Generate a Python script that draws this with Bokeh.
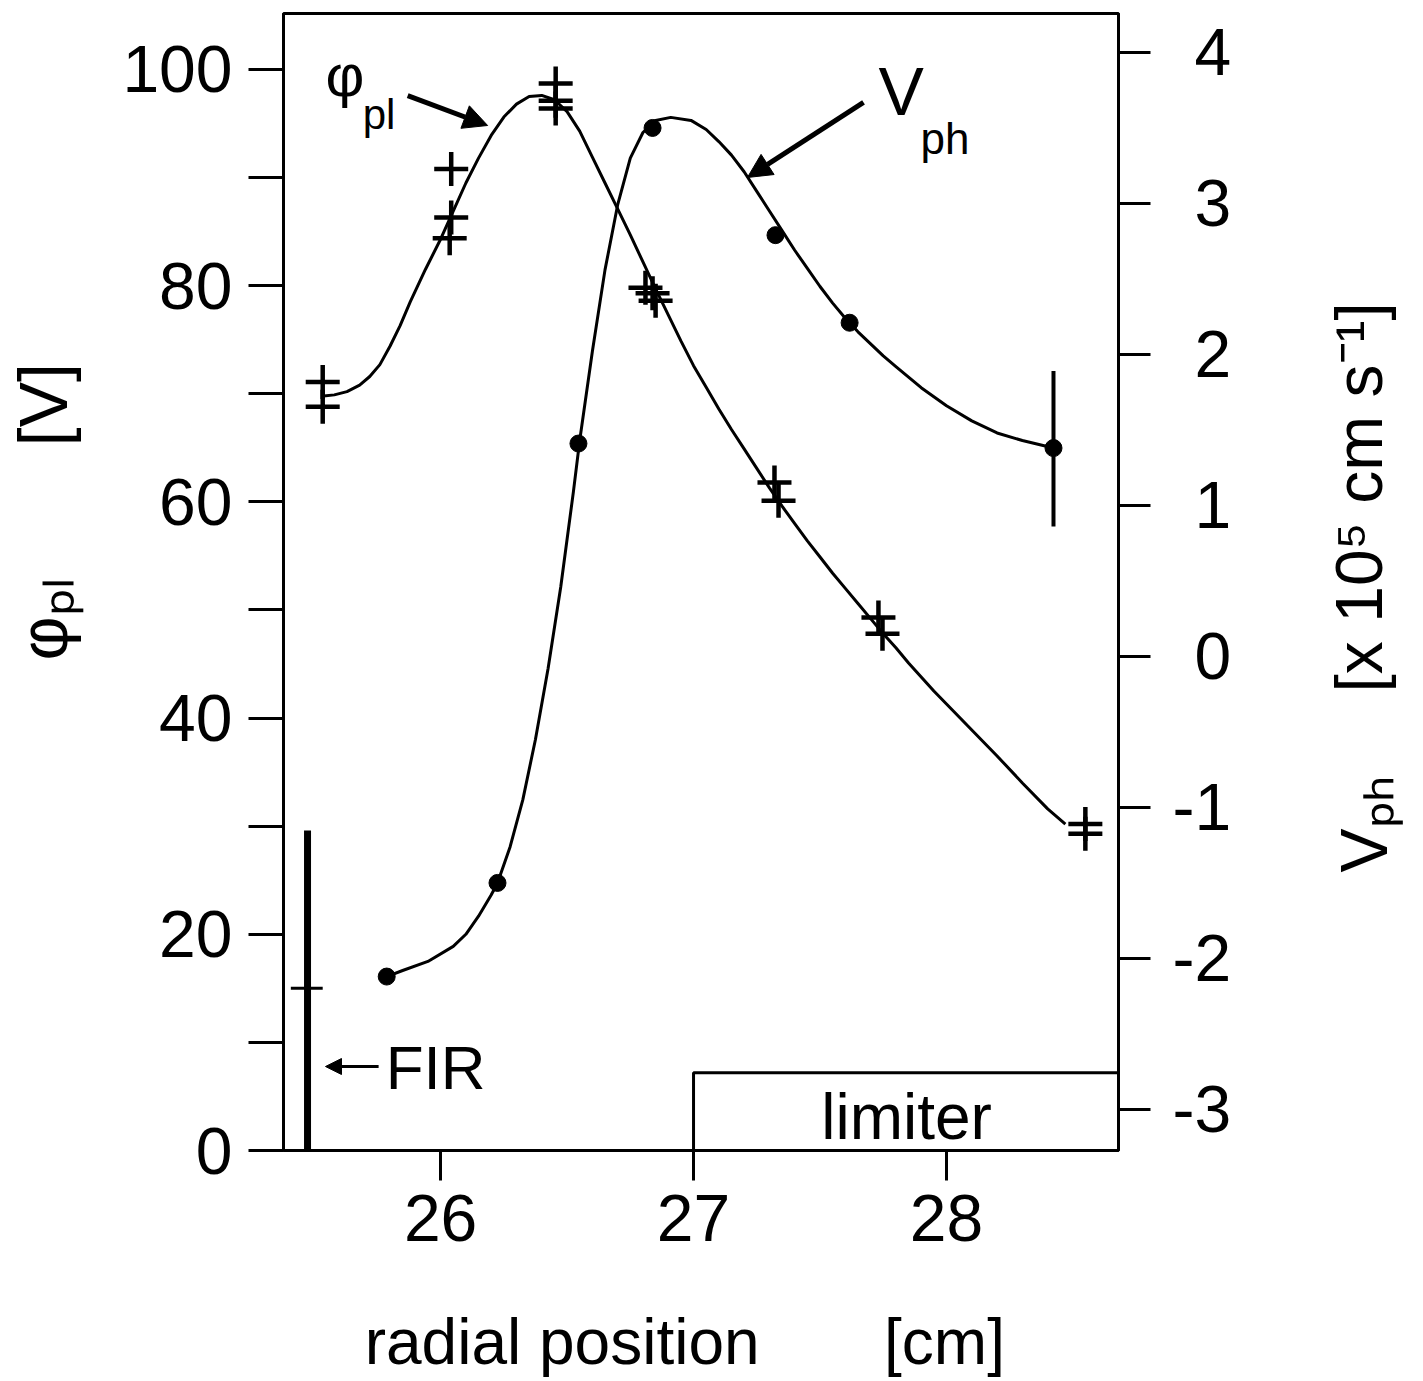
import math
from bokeh.plotting import figure
from bokeh.models import Range1d, LinearAxis, FixedTicker, Label, Arrow, NormalHead
from bokeh.embed import file_html
from bokeh.resources import INLINE

# ---------------- data ----------------
# plasma potential phi_pl [V] : measured points (crosses)
phi_pts_x = [25.534, 25.534, 26.042, 26.042, 26.036, 26.455, 26.455, 26.455,
             26.810, 26.838, 26.850, 27.320, 27.336, 27.731, 27.747, 28.549, 28.549]
phi_pts_y = [71.1, 68.8, 90.8, 86.3, 84.4, 98.7, 97.1, 96.4,
             79.8, 79.3, 78.6, 61.8, 60.1, 49.3, 47.8, 30.2, 29.3]

# plasma potential: smooth fitted curve
phi_fit_x = [25.538, 25.58, 25.63, 25.68, 25.72, 25.76, 25.80, 25.84, 25.88, 25.94,
             26.00, 26.05, 26.10, 26.15, 26.20, 26.25, 26.30, 26.35, 26.40, 26.45,
             26.50, 26.55, 26.60, 26.65, 26.70, 26.75, 26.80, 26.85, 26.90, 26.95,
             27.00, 27.05, 27.10, 27.15, 27.20, 27.25, 27.30, 27.35, 27.40, 27.45,
             27.50, 27.55, 27.60, 27.65, 27.70, 27.75, 27.80, 27.85, 27.90, 27.95,
             28.00, 28.10, 28.20, 28.30, 28.40, 28.47]
phi_fit_y = [69.8, 69.9, 70.2, 70.8, 71.6, 72.7, 74.4, 76.3, 78.5, 81.5,
             84.3, 86.9, 89.5, 91.8, 93.9, 95.6, 96.8, 97.5, 97.6, 97.2,
             96.1, 94.3, 91.9, 89.5, 87.1, 84.7, 82.2, 79.7, 77.3, 74.9,
             72.6, 70.6, 68.6, 66.7, 64.9, 63.1, 61.3, 59.6, 58.0, 56.4,
             54.9, 53.4, 52.0, 50.6, 49.2, 47.8, 46.5, 45.1, 43.8, 42.5,
             41.3, 38.9, 36.5, 34.0, 31.6, 30.2]

# phase velocity V_ph [x 10^5 cm/s] : measured points (dots)
vph_pts_x = [25.787, 26.225, 26.545, 26.838, 27.324, 27.617, 28.423]
vph_pts_y = [-2.12, -1.50, 1.41, 3.50, 2.79, 2.21, 1.38]

# error bar on the last V_ph point
vph_err_x = [28.423]
vph_err_lo = [0.86]
vph_err_hi = [1.89]

# phase velocity: smooth fitted curve
vph_fit_x = [25.787, 25.85, 25.95, 26.05, 26.10, 26.15, 26.20, 26.225, 26.275, 26.325,
             26.375, 26.425, 26.475, 26.525, 26.55, 26.60, 26.65, 26.70, 26.75, 26.80,
             26.85, 26.91, 26.99, 27.05, 27.10, 27.15, 27.20, 27.25, 27.30, 27.35,
             27.40, 27.45, 27.50, 27.55, 27.60, 27.65, 27.70, 27.75, 27.80, 27.85,
             27.90, 27.95, 28.00, 28.10, 28.20, 28.30, 28.423]
vph_fit_y = [-2.12, -2.08, -2.02, -1.92, -1.84, -1.72, -1.58, -1.50, -1.26, -0.95,
             -0.55, -0.08, 0.46, 1.09, 1.43, 2.02, 2.56, 2.99, 3.30, 3.47,
             3.55, 3.57, 3.55, 3.49, 3.41, 3.32, 3.21, 3.08, 2.95, 2.82,
             2.69, 2.57, 2.45, 2.34, 2.24, 2.15, 2.07, 1.99, 1.92, 1.85,
             1.78, 1.72, 1.66, 1.56, 1.48, 1.43, 1.38]

# FIR position marker and limiter
fir_x = 25.474
fir_top = 29.6
fir_mark = 15.0
limiter_left = 27.0
limiter_top = 7.2

# ticks
x_ticks = [26, 27, 28]
phi_ticks = [0, 20, 40, 60, 80, 100]
phi_minor = [10, 30, 50, 70, 90]
vph_ticks = [-3, -2, -1, 0, 1, 2, 3, 4]

FONT = "Liberation Sans"
X0, X1 = 25.379, 28.680
Y0, Y1 = 0.0, 105.18
V0, V1 = -3.272, 4.258

W, H = 1420, 1381
p = figure(width=W, height=H,
           x_range=Range1d(X0, X1), y_range=Range1d(Y0, Y1),
           output_backend="svg", toolbar_location=None,
           min_border_left=283, min_border_right=W - 1118,
           min_border_top=13, min_border_bottom=H - 1150)
p.extra_y_ranges = {"v": Range1d(V0, V1)}
p.background_fill_color = "white"
p.border_fill_color = "white"
p.outline_line_color = "black"
p.outline_line_width = 3
p.grid.visible = False

def style_axis(ax, tick_out, standoff):
    ax.axis_line_color = "black"
    ax.axis_line_width = 3
    ax.major_tick_line_color = "black"
    ax.major_tick_line_width = 3
    ax.major_tick_in = 0
    ax.major_tick_out = tick_out
    ax.major_label_text_font = FONT
    ax.major_label_text_font_size = "66px"
    ax.major_label_text_color = "black"
    ax.major_label_standoff = standoff

xa = p.xaxis[0]
xa.ticker = FixedTicker(ticks=x_ticks)
style_axis(xa, 30, 14)
xa.minor_tick_line_color = None

ya = p.yaxis[0]
ya.ticker = FixedTicker(ticks=phi_ticks, minor_ticks=phi_minor)
style_axis(ya, 35, 16)
ya.minor_tick_line_color = "black"
ya.minor_tick_line_width = 3
ya.minor_tick_in = 0
ya.minor_tick_out = 35

ra = LinearAxis(y_range_name="v", ticker=FixedTicker(ticks=vph_ticks))
style_axis(ra, 32, 22)
ra.minor_tick_line_color = None
ra.major_label_overrides = {t: (str(t) if t < 0 else "\u2004" + str(t)) for t in vph_ticks}
p.add_layout(ra, "right")

# curves
p.line(phi_fit_x, phi_fit_y, line_color="black", line_width=3)
p.line(vph_fit_x, vph_fit_y, y_range_name="v", line_color="black", line_width=3)

# measured points
p.scatter(phi_pts_x, phi_pts_y, marker="cross", size=34, line_color="black", line_width=4.5)
p.segment(x0=vph_err_x, y0=vph_err_lo, x1=vph_err_x, y1=vph_err_hi,
          y_range_name="v", line_color="black", line_width=4)
p.scatter(vph_pts_x, vph_pts_y, y_range_name="v", marker="circle", size=17,
          fill_color="black", line_color="black")

# FIR marker
p.segment(x0=[fir_x], y0=[0], x1=[fir_x], y1=[fir_top], line_color="black", line_width=7)
p.segment(x0=[fir_x - 0.066], y0=[fir_mark], x1=[fir_x + 0.06], y1=[fir_mark],
          line_color="black", line_width=3)

# limiter box
p.quad(left=[limiter_left], right=[X1], bottom=[0], top=[limiter_top],
       fill_color=None, line_color="black", line_width=3)

def lab(text, x, y, size, angle=0.0, align="left", place="center"):
    p.add_layout(Label(x=x, y=y, text=text, text_font=FONT,
                       text_font_size=f"{size}px", text_color="black",
                       text_align=align, text_baseline="alphabetic",
                       angle=angle, angle_units="rad"), place)

# in-plot annotations
lab("\u03c6", 25.545, 99.46, 60)
lab("pl", 25.692, 95.87, 42)
lab("V", 27.731, 98.05, 68)
lab("ph", 27.897, 93.63, 44)
lab("FIR", 25.783, 7.65, 62)
lab("limiter", 27.842, 3.10, 64, align="center")

p.add_layout(Arrow(end=NormalHead(size=24, fill_color="black", line_color="black"),
                   x_start=25.870, y_start=97.59, x_end=26.186, y_end=94.82,
                   line_color="black", line_width=5))
p.add_layout(Arrow(end=NormalHead(size=24, fill_color="black", line_color="black"),
                   x_start=27.672, y_start=96.95, x_end=27.213, y_end=90.01,
                   line_color="black", line_width=5))
p.add_layout(Arrow(end=NormalHead(size=16, fill_color="black", line_color="black"),
                   x_start=25.755, y_start=7.77, x_end=25.545, y_end=7.77,
                   line_color="black", line_width=3))

# axis titles (one label per side panel so the frame keeps its size)
NB = "\u00a0"
R = math.pi / 2
lab("radial position" + NB * 7 + "[cm]", 25.70, -17.71, 64, place="below")
lab("\u03c6\u209a\u2097" + NB * 7 + "[V]", 24.428, 45.33, 68, angle=R, place="left")
lab("V\u209a\u2095", 29.652, 25.72, 66, angle=R, place="right")
lab("[x 10\u2075 cm s\u207b\u00b9]", 29.632, 42.37, 66, angle=R, place="right")

open("out.html", "w").write(file_html(p, INLINE))
